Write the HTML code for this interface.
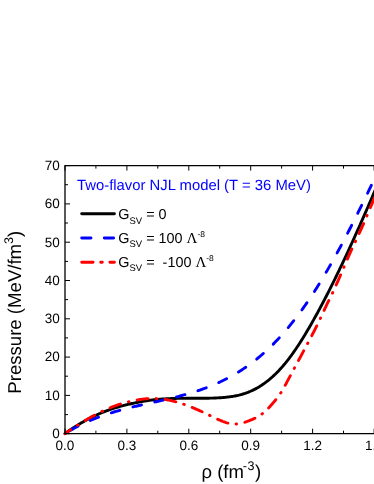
<!DOCTYPE html>
<html><head><meta charset="utf-8"><style>
html,body{margin:0;padding:0;background:#fff;}
body{width:374px;height:484px;overflow:hidden;}
svg{display:block;text-rendering:geometricPrecision;will-change:transform;transform:translateZ(0);font-family:"Liberation Sans",sans-serif;}
</style></head><body>
<svg width="374" height="484" viewBox="0 0 374 484">
<rect width="374" height="484" fill="#fff"/>
<g fill="none" stroke-width="2.9" stroke-linecap="round" stroke-linejoin="round">
<path d="M65.00,433.60 L66.00,432.88 L67.00,432.16 L68.00,431.45 L69.00,430.75 L70.00,430.06 L71.00,429.39 L72.00,428.71 L73.00,428.05 L74.00,427.40 L75.00,426.76 L76.00,426.12 L77.00,425.49 L78.00,424.88 L79.00,424.27 L80.00,423.67 L81.00,423.08 L82.00,422.49 L83.00,421.92 L84.00,421.36 L85.00,420.80 L86.00,420.25 L87.00,419.71 L88.00,419.18 L89.00,418.66 L90.00,418.14 L91.00,417.64 L92.00,417.14 L93.00,416.65 L94.00,416.17 L95.00,415.70 L96.00,415.23 L97.00,414.78 L98.00,414.33 L99.00,413.89 L100.00,413.46 L101.00,413.03 L102.00,412.62 L103.00,412.21 L104.00,411.81 L105.00,411.42 L106.00,411.03 L107.00,410.66 L108.00,410.29 L109.00,409.93 L110.00,409.57 L111.00,409.23 L112.00,408.89 L113.00,408.56 L114.00,408.24 L115.00,407.92 L116.00,407.62 L117.00,407.32 L118.00,407.02 L119.00,406.74 L120.00,406.46 L121.00,406.19 L122.00,405.92 L123.00,405.66 L124.00,405.40 L125.00,405.15 L126.00,404.91 L127.00,404.67 L128.00,404.44 L129.00,404.21 L130.00,403.98 L131.00,403.76 L132.00,403.54 L133.00,403.33 L134.00,403.11 L135.00,402.91 L136.00,402.70 L137.00,402.50 L138.00,402.30 L139.00,402.11 L140.00,401.92 L141.00,401.73 L142.00,401.54 L143.00,401.37 L144.00,401.19 L145.00,401.02 L146.00,400.86 L147.00,400.70 L148.00,400.55 L149.00,400.40 L150.00,400.26 L151.00,400.13 L152.00,400.00 L153.00,399.88 L154.00,399.77 L155.00,399.66 L156.00,399.55 L157.00,399.45 L158.00,399.36 L159.00,399.27 L160.00,399.19 L161.00,399.11 L162.00,399.04 L163.00,398.97 L164.00,398.91 L165.00,398.85 L166.00,398.79 L167.00,398.74 L168.00,398.69 L169.00,398.65 L170.00,398.61 L171.00,398.57 L172.00,398.54 L173.00,398.51 L174.00,398.48 L175.00,398.46 L176.00,398.43 L177.00,398.41 L178.00,398.40 L179.00,398.38 L180.00,398.37 L181.00,398.36 L182.00,398.35 L183.00,398.34 L184.00,398.33 L185.00,398.33 L186.00,398.32 L187.00,398.32 L188.00,398.32 L189.00,398.32 L190.00,398.32 L191.00,398.32 L192.00,398.32 L193.00,398.31 L194.00,398.31 L195.00,398.31 L196.00,398.31 L197.00,398.31 L198.00,398.31 L199.00,398.30 L200.00,398.30 L201.00,398.29 L202.00,398.29 L203.00,398.28 L204.00,398.27 L205.00,398.26 L206.00,398.24 L207.00,398.23 L208.00,398.21 L209.00,398.19 L210.00,398.17 L211.00,398.14 L212.00,398.11 L213.00,398.08 L214.00,398.05 L215.00,398.01 L216.00,397.97 L217.00,397.92 L218.00,397.87 L219.00,397.82 L220.00,397.76 L221.00,397.69 L222.00,397.62 L223.00,397.55 L224.00,397.46 L225.00,397.37 L226.00,397.27 L227.00,397.16 L228.00,397.05 L229.00,396.92 L230.00,396.79 L231.00,396.64 L232.00,396.49 L233.00,396.32 L234.00,396.15 L235.00,395.96 L236.00,395.76 L237.00,395.55 L238.00,395.32 L239.00,395.09 L240.00,394.83 L241.00,394.57 L242.00,394.29 L243.00,393.99 L244.00,393.68 L245.00,393.36 L246.00,393.01 L247.00,392.65 L248.00,392.28 L249.00,391.88 L250.00,391.47 L251.00,391.04 L252.00,390.60 L253.00,390.13 L254.00,389.64 L255.00,389.13 L256.00,388.60 L257.00,388.06 L258.00,387.49 L259.00,386.90 L260.00,386.29 L261.00,385.65 L262.00,385.00 L263.00,384.32 L264.00,383.62 L265.00,382.90 L266.00,382.16 L267.00,381.40 L268.00,380.61 L269.00,379.80 L270.00,378.97 L271.00,378.11 L272.00,377.23 L273.00,376.33 L274.00,375.40 L275.00,374.45 L276.00,373.47 L277.00,372.48 L278.00,371.45 L279.00,370.40 L280.00,369.33 L281.00,368.23 L282.00,367.11 L283.00,365.96 L284.00,364.79 L285.00,363.59 L286.00,362.36 L287.00,361.11 L288.00,359.83 L289.00,358.53 L290.00,357.21 L291.00,355.85 L292.00,354.48 L293.00,353.08 L294.00,351.66 L295.00,350.22 L296.00,348.75 L297.00,347.26 L298.00,345.75 L299.00,344.22 L300.00,342.68 L301.00,341.11 L302.00,339.52 L303.00,337.91 L304.00,336.28 L305.00,334.64 L306.00,332.98 L307.00,331.30 L308.00,329.61 L309.00,327.90 L310.00,326.17 L311.00,324.43 L312.00,322.67 L313.00,320.90 L314.00,319.12 L315.00,317.32 L316.00,315.51 L317.00,313.68 L318.00,311.84 L319.00,310.00 L320.00,308.13 L321.00,306.26 L322.00,304.37 L323.00,302.48 L324.00,300.57 L325.00,298.64 L326.00,296.71 L327.00,294.77 L328.00,292.81 L329.00,290.84 L330.00,288.86 L331.00,286.87 L332.00,284.87 L333.00,282.86 L334.00,280.84 L335.00,278.81 L336.00,276.76 L337.00,274.71 L338.00,272.65 L339.00,270.57 L340.00,268.49 L341.00,266.40 L342.00,264.30 L343.00,262.18 L344.00,260.06 L345.00,257.93 L346.00,255.79 L347.00,253.64 L348.00,251.49 L349.00,249.32 L350.00,247.15 L351.00,244.96 L352.00,242.77 L353.00,240.57 L354.00,238.37 L355.00,236.15 L356.00,233.93 L357.00,231.70 L358.00,229.46 L359.00,227.22 L360.00,224.97 L361.00,222.71 L362.00,220.45 L363.00,218.18 L364.00,215.90 L365.00,213.62 L366.00,211.33 L367.00,209.03 L368.00,206.73 L369.00,204.43 L370.00,202.12 L371.00,199.80 L372.00,197.48 L373.00,195.16 L374.00,192.83 L375.00,190.49 L376.00,188.15 L377.00,185.81" stroke="#000"/>
<path d="M65.00,433.60 L66.00,432.98 L67.00,432.37 L68.00,431.76 L69.00,431.17 L70.00,430.58 L71.00,430.01 L72.00,429.44 L73.00,428.88 L74.00,428.33 L75.00,427.79 L76.00,427.26 L77.00,426.73 L78.00,426.21 L79.00,425.70 L80.00,425.20 L81.00,424.70 L82.00,424.22 L83.00,423.74 L84.00,423.27 L85.00,422.80 L86.00,422.34 L87.00,421.89 L88.00,421.45 L89.00,421.01 L90.00,420.58 L91.00,420.16 L92.00,419.74 L93.00,419.33 L94.00,418.93 L95.00,418.53 L96.00,418.14 L97.00,417.75 L98.00,417.37 L99.00,417.00 L100.00,416.63 L101.00,416.26 L102.00,415.91 L103.00,415.55 L104.00,415.21 L105.00,414.87 L106.00,414.53 L107.00,414.20 L108.00,413.87 L109.00,413.55 L110.00,413.23 L111.00,412.91 L112.00,412.61 L113.00,412.30 L114.00,412.00 L115.00,411.70 L116.00,411.41 L117.00,411.12 L118.00,410.84 L119.00,410.56 L120.00,410.28 L121.00,410.00 L122.00,409.73 L123.00,409.46 L124.00,409.20 L125.00,408.94 L126.00,408.68 L127.00,408.42 L128.00,408.17 L129.00,407.92 L130.00,407.67 L131.00,407.42 L132.00,407.18 L133.00,406.94 L134.00,406.70 L135.00,406.46 L136.00,406.22 L137.00,405.99 L138.00,405.76 L139.00,405.53 L140.00,405.30 L141.00,405.07 L142.00,404.84 L143.00,404.61 L144.00,404.39 L145.00,404.16 L146.00,403.94 L147.00,403.72 L148.00,403.49 L149.00,403.27 L150.00,403.05 L151.00,402.83 L152.00,402.61 L153.00,402.39 L154.00,402.17 L155.00,401.94 L156.00,401.72 L157.00,401.50 L158.00,401.28 L159.00,401.05 L160.00,400.83 L161.00,400.60 L162.00,400.38 L163.00,400.15 L164.00,399.92 L165.00,399.69 L166.00,399.46 L167.00,399.23 L168.00,398.99 L169.00,398.76 L170.00,398.52 L171.00,398.28 L172.00,398.04 L173.00,397.80 L174.00,397.55 L175.00,397.30 L176.00,397.05 L177.00,396.80 L178.00,396.54 L179.00,396.28 L180.00,396.02 L181.00,395.76 L182.00,395.49 L183.00,395.22 L184.00,394.94 L185.00,394.67 L186.00,394.39 L187.00,394.10 L188.00,393.81 L189.00,393.52 L190.00,393.22 L191.00,392.92 L192.00,392.62 L193.00,392.31 L194.00,392.00 L195.00,391.68 L196.00,391.36 L197.00,391.03 L198.00,390.70 L199.00,390.36 L200.00,390.02 L201.00,389.68 L202.00,389.32 L203.00,388.97 L204.00,388.61 L205.00,388.24 L206.00,387.86 L207.00,387.48 L208.00,387.10 L209.00,386.71 L210.00,386.31 L211.00,385.91 L212.00,385.50 L213.00,385.08 L214.00,384.66 L215.00,384.23 L216.00,383.79 L217.00,383.35 L218.00,382.90 L219.00,382.44 L220.00,381.98 L221.00,381.51 L222.00,381.03 L223.00,380.54 L224.00,380.05 L225.00,379.55 L226.00,379.04 L227.00,378.52 L228.00,378.00 L229.00,377.46 L230.00,376.92 L231.00,376.37 L232.00,375.81 L233.00,375.25 L234.00,374.67 L235.00,374.09 L236.00,373.50 L237.00,372.89 L238.00,372.28 L239.00,371.66 L240.00,371.03 L241.00,370.40 L242.00,369.75 L243.00,369.09 L244.00,368.42 L245.00,367.74 L246.00,367.06 L247.00,366.36 L248.00,365.65 L249.00,364.94 L250.00,364.21 L251.00,363.47 L252.00,362.72 L253.00,361.96 L254.00,361.19 L255.00,360.41 L256.00,359.62 L257.00,358.81 L258.00,358.00 L259.00,357.17 L260.00,356.34 L261.00,355.49 L262.00,354.63 L263.00,353.76 L264.00,352.87 L265.00,351.98 L266.00,351.07 L267.00,350.15 L268.00,349.22 L269.00,348.27 L270.00,347.31 L271.00,346.34 L272.00,345.36 L273.00,344.37 L274.00,343.36 L275.00,342.34 L276.00,341.30 L277.00,340.26 L278.00,339.20 L279.00,338.12 L280.00,337.03 L281.00,335.93 L282.00,334.82 L283.00,333.69 L284.00,332.55 L285.00,331.40 L286.00,330.23 L287.00,329.05 L288.00,327.86 L289.00,326.65 L290.00,325.43 L291.00,324.20 L292.00,322.95 L293.00,321.69 L294.00,320.42 L295.00,319.13 L296.00,317.83 L297.00,316.52 L298.00,315.19 L299.00,313.85 L300.00,312.50 L301.00,311.13 L302.00,309.75 L303.00,308.36 L304.00,306.95 L305.00,305.53 L306.00,304.09 L307.00,302.64 L308.00,301.18 L309.00,299.71 L310.00,298.22 L311.00,296.72 L312.00,295.20 L313.00,293.67 L314.00,292.13 L315.00,290.57 L316.00,289.00 L317.00,287.42 L318.00,285.82 L319.00,284.21 L320.00,282.58 L321.00,280.95 L322.00,279.30 L323.00,277.63 L324.00,275.96 L325.00,274.27 L326.00,272.57 L327.00,270.86 L328.00,269.14 L329.00,267.40 L330.00,265.65 L331.00,263.90 L332.00,262.13 L333.00,260.34 L334.00,258.55 L335.00,256.75 L336.00,254.94 L337.00,253.11 L338.00,251.28 L339.00,249.43 L340.00,247.58 L341.00,245.72 L342.00,243.84 L343.00,241.96 L344.00,240.07 L345.00,238.16 L346.00,236.25 L347.00,234.33 L348.00,232.41 L349.00,230.47 L350.00,228.52 L351.00,226.57 L352.00,224.61 L353.00,222.64 L354.00,220.67 L355.00,218.68 L356.00,216.69 L357.00,214.69 L358.00,212.69 L359.00,210.67 L360.00,208.66 L361.00,206.63 L362.00,204.60 L363.00,202.56 L364.00,200.52 L365.00,198.47 L366.00,196.41 L367.00,194.35 L368.00,192.29 L369.00,190.22 L370.00,188.14 L371.00,186.06 L372.00,183.98 L373.00,181.89 L374.00,179.79 L375.00,177.70 L376.00,175.60 L377.00,173.49" stroke="#0000ff" stroke-dasharray="8.8 13.55" stroke-dashoffset="16.1"/>
<path d="M65.00,433.60 L66.00,432.91 L67.00,432.22 L68.00,431.54 L69.00,430.86 L70.00,430.18 L71.00,429.51 L72.00,428.84 L73.00,428.18 L74.00,427.52 L75.00,426.87 L76.00,426.22 L77.00,425.58 L78.00,424.94 L79.00,424.30 L80.00,423.67 L81.00,423.05 L82.00,422.43 L83.00,421.82 L84.00,421.21 L85.00,420.61 L86.00,420.01 L87.00,419.43 L88.00,418.84 L89.00,418.27 L90.00,417.69 L91.00,417.13 L92.00,416.57 L93.00,416.02 L94.00,415.48 L95.00,414.94 L96.00,414.41 L97.00,413.89 L98.00,413.38 L99.00,412.87 L100.00,412.37 L101.00,411.88 L102.00,411.39 L103.00,410.92 L104.00,410.45 L105.00,409.99 L106.00,409.54 L107.00,409.09 L108.00,408.66 L109.00,408.23 L110.00,407.81 L111.00,407.41 L112.00,407.01 L113.00,406.62 L114.00,406.24 L115.00,405.87 L116.00,405.50 L117.00,405.15 L118.00,404.81 L119.00,404.47 L120.00,404.15 L121.00,403.83 L122.00,403.53 L123.00,403.23 L124.00,402.94 L125.00,402.66 L126.00,402.39 L127.00,402.13 L128.00,401.87 L129.00,401.63 L130.00,401.39 L131.00,401.17 L132.00,400.95 L133.00,400.74 L134.00,400.54 L135.00,400.35 L136.00,400.16 L137.00,399.99 L138.00,399.82 L139.00,399.66 L140.00,399.51 L141.00,399.37 L142.00,399.24 L143.00,399.11 L144.00,399.00 L145.00,398.90 L146.00,398.81 L147.00,398.73 L148.00,398.66 L149.00,398.60 L150.00,398.56 L151.00,398.53 L152.00,398.51 L153.00,398.50 L154.00,398.50 L155.00,398.52 L156.00,398.55 L157.00,398.60 L158.00,398.66 L159.00,398.73 L160.00,398.82 L161.00,398.92 L162.00,399.03 L163.00,399.16 L164.00,399.29 L165.00,399.44 L166.00,399.60 L167.00,399.78 L168.00,399.96 L169.00,400.16 L170.00,400.37 L171.00,400.59 L172.00,400.82 L173.00,401.06 L174.00,401.31 L175.00,401.57 L176.00,401.84 L177.00,402.12 L178.00,402.41 L179.00,402.71 L180.00,403.02 L181.00,403.34 L182.00,403.67 L183.00,404.00 L184.00,404.35 L185.00,404.70 L186.00,405.06 L187.00,405.43 L188.00,405.80 L189.00,406.19 L190.00,406.58 L191.00,406.97 L192.00,407.38 L193.00,407.79 L194.00,408.21 L195.00,408.63 L196.00,409.06 L197.00,409.49 L198.00,409.93 L199.00,410.38 L200.00,410.83 L201.00,411.28 L202.00,411.74 L203.00,412.20 L204.00,412.67 L205.00,413.15 L206.00,413.62 L207.00,414.10 L208.00,414.59 L209.00,415.07 L210.00,415.56 L211.00,416.05 L212.00,416.55 L213.00,417.04 L214.00,417.53 L215.00,418.01 L216.00,418.49 L217.00,418.95 L218.00,419.41 L219.00,419.86 L220.00,420.29 L221.00,420.71 L222.00,421.11 L223.00,421.50 L224.00,421.86 L225.00,422.20 L226.00,422.52 L227.00,422.81 L228.00,423.07 L229.00,423.31 L230.00,423.51 L231.00,423.68 L232.00,423.82 L233.00,423.92 L234.00,423.99 L235.00,424.01 L236.00,423.99 L237.00,423.94 L238.00,423.84 L239.00,423.70 L240.00,423.52 L241.00,423.32 L242.00,423.08 L243.00,422.81 L244.00,422.52 L245.00,422.21 L246.00,421.87 L247.00,421.51 L248.00,421.14 L249.00,420.76 L250.00,420.36 L251.00,419.96 L252.00,419.54 L253.00,419.11 L254.00,418.66 L255.00,418.19 L256.00,417.69 L257.00,417.16 L258.00,416.60 L259.00,416.00 L260.00,415.36 L261.00,414.68 L262.00,413.95 L263.00,413.17 L264.00,412.34 L265.00,411.45 L266.00,410.52 L267.00,409.55 L268.00,408.53 L269.00,407.48 L270.00,406.41 L271.00,405.30 L272.00,404.17 L273.00,403.03 L274.00,401.87 L275.00,400.69 L276.00,399.47 L277.00,398.22 L278.00,396.91 L279.00,395.54 L280.00,394.09 L281.00,392.57 L282.00,390.95 L283.00,389.25 L284.00,387.49 L285.00,385.67 L286.00,383.82 L287.00,381.94 L288.00,380.06 L289.00,378.19 L290.00,376.32 L291.00,374.45 L292.00,372.58 L293.00,370.72 L294.00,368.86 L295.00,367.00 L296.00,365.14 L297.00,363.28 L298.00,361.42 L299.00,359.56 L300.00,357.71 L301.00,355.85 L302.00,353.99 L303.00,352.12 L304.00,350.26 L305.00,348.39 L306.00,346.52 L307.00,344.65 L308.00,342.77 L309.00,340.89 L310.00,339.00 L311.00,337.10 L312.00,335.19 L313.00,333.27 L314.00,331.33 L315.00,329.37 L316.00,327.38 L317.00,325.38 L318.00,323.34 L319.00,321.28 L320.00,319.18 L321.00,317.06 L322.00,314.90 L323.00,312.73 L324.00,310.56 L325.00,308.40 L326.00,306.27 L327.00,304.18 L328.00,302.13 L329.00,300.11 L330.00,298.09 L331.00,296.07 L332.00,294.02 L333.00,291.94 L334.00,289.80 L335.00,287.62 L336.00,285.40 L337.00,283.14 L338.00,280.86 L339.00,278.55 L340.00,276.22 L341.00,273.88 L342.00,271.54 L343.00,269.18 L344.00,266.84 L345.00,264.50 L346.00,262.17 L347.00,259.86 L348.00,257.57 L349.00,255.31 L350.00,253.09 L351.00,250.90 L352.00,248.73 L353.00,246.59 L354.00,244.46 L355.00,242.34 L356.00,240.22 L357.00,238.10 L358.00,235.96 L359.00,233.81 L360.00,231.64 L361.00,229.44 L362.00,227.21 L363.00,224.94 L364.00,222.65 L365.00,220.33 L366.00,217.98 L367.00,215.63 L368.00,213.25 L369.00,210.88 L370.00,208.49 L371.00,206.11 L372.00,203.72 L373.00,201.35 L374.00,198.99 L375.00,196.64 L376.00,194.31 L377.00,192.01" stroke="#ff0000" stroke-dasharray="10.9 8.25 0.6 8.4" stroke-dashoffset="4.15"/>
</g>
<g stroke="#000" stroke-width="1" fill="none">
<path d="M380,165.6 H65.0 V433.7 H380" stroke-width="1.3"/>
<line x1="65.0" y1="433.7" x2="65.0" y2="428.7"/><line x1="65.0" y1="165.6" x2="65.0" y2="170.6"/><line x1="95.9" y1="433.7" x2="95.9" y2="430.7"/><line x1="95.9" y1="165.6" x2="95.9" y2="168.6"/><line x1="126.9" y1="433.7" x2="126.9" y2="428.7"/><line x1="126.9" y1="165.6" x2="126.9" y2="170.6"/><line x1="157.8" y1="433.7" x2="157.8" y2="430.7"/><line x1="157.8" y1="165.6" x2="157.8" y2="168.6"/><line x1="188.8" y1="433.7" x2="188.8" y2="428.7"/><line x1="188.8" y1="165.6" x2="188.8" y2="170.6"/><line x1="219.7" y1="433.7" x2="219.7" y2="430.7"/><line x1="219.7" y1="165.6" x2="219.7" y2="168.6"/><line x1="250.7" y1="433.7" x2="250.7" y2="428.7"/><line x1="250.7" y1="165.6" x2="250.7" y2="170.6"/><line x1="281.6" y1="433.7" x2="281.6" y2="430.7"/><line x1="281.6" y1="165.6" x2="281.6" y2="168.6"/><line x1="312.6" y1="433.7" x2="312.6" y2="428.7"/><line x1="312.6" y1="165.6" x2="312.6" y2="170.6"/><line x1="343.5" y1="433.7" x2="343.5" y2="430.7"/><line x1="343.5" y1="165.6" x2="343.5" y2="168.6"/><line x1="374.1" y1="433.7" x2="374.1" y2="428.7"/><line x1="374.1" y1="165.6" x2="374.1" y2="170.6"/><line x1="65.0" y1="433.7" x2="70.0" y2="433.7"/><line x1="65.0" y1="414.6" x2="68.0" y2="414.6"/><line x1="65.0" y1="395.4" x2="70.0" y2="395.4"/><line x1="65.0" y1="376.2" x2="68.0" y2="376.2"/><line x1="65.0" y1="357.1" x2="70.0" y2="357.1"/><line x1="65.0" y1="337.9" x2="68.0" y2="337.9"/><line x1="65.0" y1="318.8" x2="70.0" y2="318.8"/><line x1="65.0" y1="299.6" x2="68.0" y2="299.6"/><line x1="65.0" y1="280.5" x2="70.0" y2="280.5"/><line x1="65.0" y1="261.4" x2="68.0" y2="261.4"/><line x1="65.0" y1="242.2" x2="70.0" y2="242.2"/><line x1="65.0" y1="223.0" x2="68.0" y2="223.0"/><line x1="65.0" y1="203.9" x2="70.0" y2="203.9"/><line x1="65.0" y1="184.7" x2="68.0" y2="184.7"/><line x1="65.0" y1="165.6" x2="70.0" y2="165.6"/>
</g>
<g font-size="13.5" fill="#000">
<text x="65.0" y="450.2" text-anchor="middle">0.0</text><text x="126.9" y="450.2" text-anchor="middle">0.3</text><text x="188.8" y="450.2" text-anchor="middle">0.6</text><text x="250.7" y="450.2" text-anchor="middle">0.9</text><text x="312.6" y="450.2" text-anchor="middle">1.2</text><text x="374.5" y="450.2" text-anchor="middle">1.5</text>
<text x="59.8" y="438.0" text-anchor="end">0</text><text x="59.8" y="399.7" text-anchor="end">10</text><text x="59.8" y="361.4" text-anchor="end">20</text><text x="59.8" y="323.1" text-anchor="end">30</text><text x="59.8" y="284.8" text-anchor="end">40</text><text x="59.8" y="246.5" text-anchor="end">50</text><text x="59.8" y="208.2" text-anchor="end">60</text><text x="59.8" y="169.9" text-anchor="end">70</text>
</g>
<text x="201.5" y="478.2" font-size="18.5" fill="#000">ρ (fm<tspan dy="-8" dx="-1.2" font-size="12.5" letter-spacing="0.6">-3</tspan><tspan dy="8" font-size="18.5">)</tspan></text>
<text transform="translate(21,393.7) rotate(-90)" font-size="18.6" fill="#000">Pressure (MeV/fm<tspan dy="-8" font-size="12.5">3</tspan><tspan dy="8" font-size="18.5">)</tspan></text>
<text x="77" y="190.2" font-size="14.85" fill="#0000ff">Two-flavor NJL model (T = 36 MeV)</text>
<g stroke-width="2.9" stroke-linecap="round" fill="none">
<line x1="81.7" y1="213.8" x2="114.4" y2="213.8" stroke="#000"/>
<path d="M81.7,238 h9.3 M104.3,238 h9.3" stroke="#0000ff"/>
<path d="M81.7,262.2 h11.4 M100.7,262.2 h1.6 M109.9,262.2 h4.5" stroke="#ff0000"/>
</g>
<g font-size="14.4" fill="#000">
<text x="118.3" y="219.3">G<tspan dy="4.2" font-size="9.5">SV</tspan><tspan dy="-4.2" font-size="14.4"> = 0</tspan></text>
<text x="118.3" y="243">G<tspan dy="4.2" font-size="9.5">SV</tspan><tspan dy="-4.2" font-size="14.4"> = 100 </tspan><tspan font-family="Liberation Serif" font-size="15">Λ</tspan><tspan dy="-6" font-size="8.5">-8</tspan></text>
<text x="118.3" y="267">G<tspan dy="4.2" font-size="9.5">SV</tspan><tspan dy="-4.2" font-size="14.4"> =&#160; -100 </tspan><tspan font-family="Liberation Serif" font-size="15">Λ</tspan><tspan dy="-6" font-size="8.5">-8</tspan></text>
</g>
</svg>
</body></html>
